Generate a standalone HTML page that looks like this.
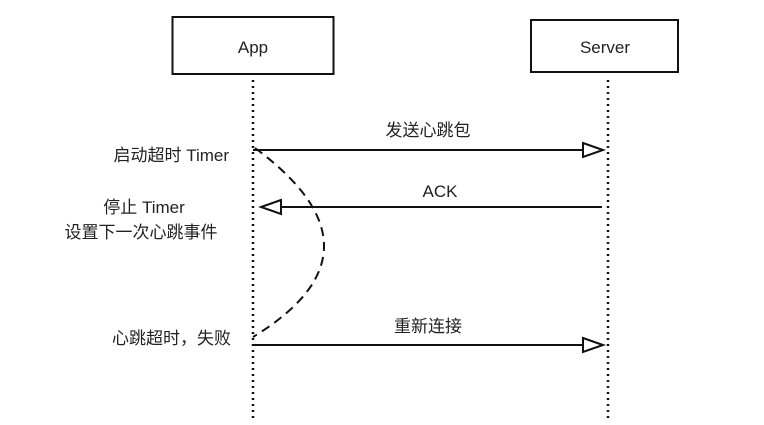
<!DOCTYPE html>
<html><head><meta charset="utf-8"><style>
html,body{margin:0;padding:0;background:#fff;}
svg text{font-family:"Liberation Sans","Noto Sans CJK SC",sans-serif;font-size:17px;fill:#222;}
</style></head><body>
<svg width="764" height="420" viewBox="0 0 764 420" xmlns="http://www.w3.org/2000/svg">
<rect x="172.5" y="17" width="161" height="57" fill="#fff" stroke="#111" stroke-width="2"/>
<text x="253" y="53" text-anchor="middle">App</text>
<rect x="531" y="20" width="147" height="52" fill="#fff" stroke="#111" stroke-width="2"/>
<text x="605" y="53" text-anchor="middle">Server</text>
<line x1="253" y1="80" x2="253" y2="420" stroke="#111" stroke-width="2.5" stroke-dasharray="2,4"/>
<line x1="608" y1="80" x2="608" y2="420" stroke="#111" stroke-width="2.5" stroke-dasharray="2,4"/>
<line x1="253" y1="150" x2="584" y2="150" stroke="#111" stroke-width="2"/>
<polygon points="583,143 603,150 583,157" fill="#fff" stroke="#111" stroke-width="2"/>
<text x="428" y="136" text-anchor="middle">发送心跳包</text>
<line x1="602" y1="207" x2="280" y2="207" stroke="#111" stroke-width="2"/>
<polygon points="281,200 261,207 281,214" fill="#fff" stroke="#111" stroke-width="2"/>
<text x="440" y="197" text-anchor="middle">ACK</text>
<line x1="253" y1="345" x2="584" y2="345" stroke="#111" stroke-width="2"/>
<polygon points="583,338 603,345 583,352" fill="#fff" stroke="#111" stroke-width="2"/>
<text x="428" y="332" text-anchor="middle">重新连接</text>
<path d="M255,148 Q394,251 253,337" fill="none" stroke="#111" stroke-width="2" stroke-dasharray="9,6"/>
<text x="229" y="161" text-anchor="end">启动超时 Timer</text>
<text x="144" y="213" text-anchor="middle">停止 Timer</text>
<text x="141" y="238" text-anchor="middle">设置下一次心跳事件</text>
<text x="231" y="344" text-anchor="end">心跳超时，失败</text>
</svg>
</body></html>
